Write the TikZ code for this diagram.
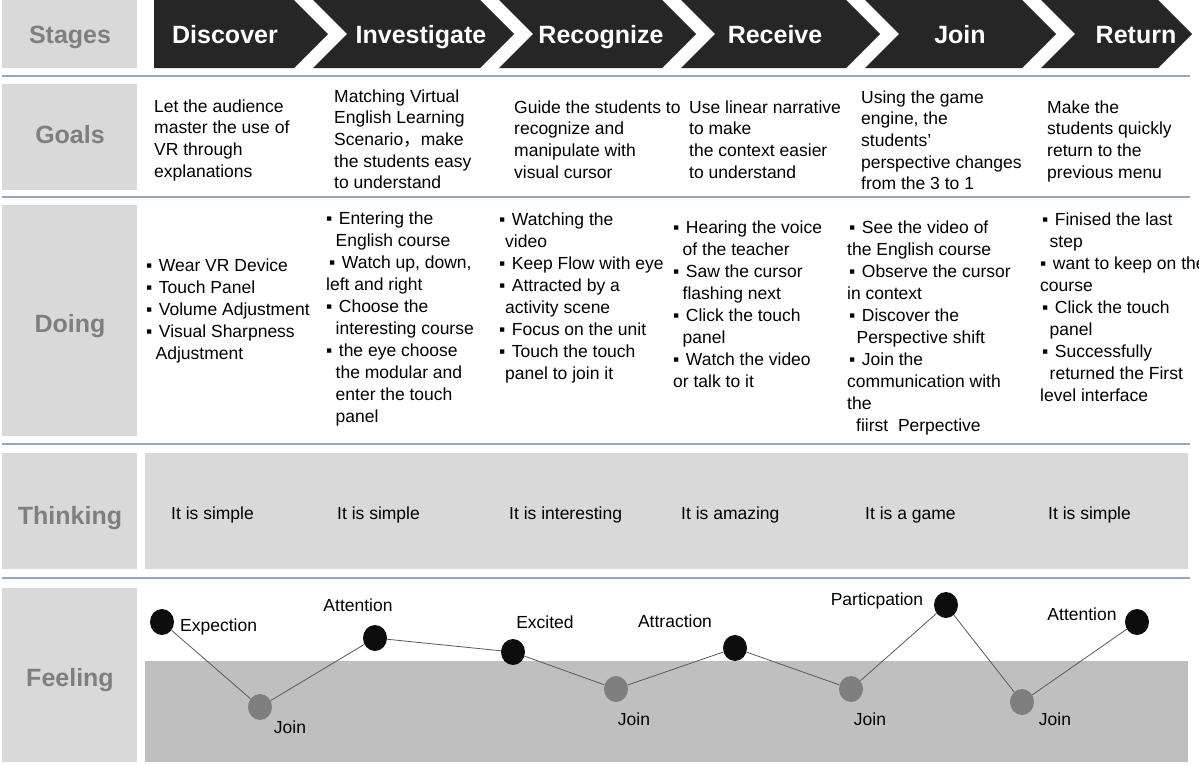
\documentclass[tikz,border=0pt]{standalone}
\usepackage{fontspec}
\usetikzlibrary{shapes.geometric}
\setmainfont{Liberation Sans}
\newfontfamily\cjkfont{Noto Sans CJK SC}
\definecolor{bannerbk}{HTML}{262626}
\definecolor{labelbox}{HTML}{D9D9D9}
\definecolor{labeltxt}{HTML}{7F7F7F}
\definecolor{lowband}{HTML}{BFBFBF}
\definecolor{rule}{HTML}{95A7BA}
\definecolor{dotgrey}{HTML}{7F7F7F}
\definecolor{dotblack}{HTML}{0D0D0D}
\definecolor{linkgrey}{HTML}{5A5A5A}
% bullet and hanging indent for the list cells
\newcommand{\bu}{▪\hspace{6.5pt}}
\newcommand{\ind}{\hspace*{9.5pt}}
\begin{document}
\begin{tikzpicture}[x=1pt,y=-1pt,
  head/.style={font=\fontsize{25}{30}\selectfont\bfseries, text=white, anchor=base, inner sep=0pt},
  rowlabel/.style={font=\fontsize{25}{30}\selectfont\bfseries, text=labeltxt, anchor=base, inner sep=0pt},
  goaltxt/.style={font=\fontsize{17.5}{21.7}\selectfont, align=left, anchor=north west, inner sep=0pt},
  dotxt/.style={font=\fontsize{17.5}{22}\selectfont, align=left, anchor=north west, inner sep=0pt},
  thinktxt/.style={font=\fontsize{17.5}{21}\selectfont, anchor=base west, inner sep=0pt},
  feeltxt/.style={font=\fontsize{17.5}{21}\selectfont, anchor=base, inner sep=0pt},
  bdot/.style={ellipse, fill=dotblack, minimum width=24pt, minimum height=26pt, inner sep=0pt},
  gdot/.style={ellipse, fill=dotgrey, minimum width=24pt, minimum height=26pt, inner sep=0pt},
  link/.style={draw=linkgrey, line width=0.8pt},
  sep/.style={draw=rule, line width=1.4pt},
]
\useasboundingbox (0,0) rectangle (1199,764);
\fill[white] (0,0) rectangle (1199,764);

% ---- label column boxes
\fill[labelbox] (2,0) rectangle (137,68);
\fill[labelbox] (2,84) rectangle (137,190);
\fill[labelbox] (2,205) rectangle (137,436);
\fill[labelbox] (2,453) rectangle (137,569);
\fill[labelbox] (2,588) rectangle (137,762);

% ---- content bands
\fill[labelbox] (145,453) rectangle (1188,569);
\fill[lowband] (145,661) rectangle (1188,762);

% ---- row separators
\draw[sep] (2,76) -- (1190,76);
\draw[sep] (2,197) -- (1190,197);
\draw[sep] (2,444) -- (1190,444);
\draw[sep] (2,578) -- (1190,578);

% ---- stage chevrons
\fill[bannerbk] (154,0) -- (294,0) -- (328,34) -- (294,68) -- (154,68) -- cycle;
\fill[bannerbk] (313,0) -- (480,0) -- (514,34) -- (480,68) -- (313,68) -- (347,34) -- cycle;
\fill[bannerbk] (499,0) -- (662,0) -- (696,34) -- (662,68) -- (499,68) -- (533,34) -- cycle;
\fill[bannerbk] (681,0) -- (846,0) -- (880,34) -- (846,68) -- (681,68) -- (715,34) -- cycle;
\fill[bannerbk] (865,0) -- (1022,0) -- (1056,34) -- (1022,68) -- (865,68) -- (899,34) -- cycle;
\fill[bannerbk] (1041,0) -- (1158,0) -- (1192,34) -- (1158,68) -- (1041,68) -- (1075,34) -- cycle;

\node[head] (stDiscover) at (225,43) {Discover};
\node[head] (stInvestigate) at (421,43) {Investigate};
\node[head] (stRecognize) at (601,43) {Recognize};
\node[head] (stReceive) at (775,43) {Receive};
\node[head] (stJoin) at (960,43) {Join};
\node[head] (stReturn) at (1136,43) {Return};

% ---- row labels
\node[rowlabel] (lbStages) at (70,43) {Stages};
\node[rowlabel] (lbGoals) at (70,143) {Goals};
\node[rowlabel] (lbDoing) at (70,332) {Doing};
\node[rowlabel] (lbThinking) at (70,524) {Thinking};
\node[rowlabel] (lbFeeling) at (70,686) {Feeling};

% ---- goals
\node[goaltxt] (g1) at (154,96.8) {\strut Let the audience\\master the use of\\VR through\\explanations};
\node[goaltxt] (g2) at (334,86.8) {\strut Matching Virtual\\English Learning\\Scenario{\cjkfont ，}make\\the students easy\\to understand};
\node[goaltxt] (g3) at (514,97.8) {\strut Guide the students to\\recognize and\\manipulate with\\visual cursor};
\node[goaltxt] (g4) at (689,97.8) {\strut Use linear narrative\\to make\\the context easier\\to understand};
\node[goaltxt] (g5) at (861,87.8) {\strut Using the game\\engine, the\\students'\\perspective changes\\from the 3 to 1};
\node[goaltxt] (g6) at (1047,97.8) {\strut Make the\\students quickly\\return to the\\previous menu};

% ---- doing
\node[dotxt] (d1) at (146,255.6) {\strut\bu Wear VR Device\\\bu Touch Panel\\\bu Volume Adjustment\\\bu Visual Sharpness\\\ind Adjustment};
\node[dotxt] (d2) at (326,208.6) {\strut\bu Entering the\\\ind English course\\\hspace*{3pt}\bu Watch up, down,\\left and right\\\bu Choose the\\\ind interesting course\\\bu the eye choose\\\ind the modular and\\\ind enter the touch\\\ind panel};
\node[dotxt] (d3) at (499,209.6) {\strut\bu Watching the\\\hspace*{6pt}video\\\bu Keep Flow with eye\\\bu Attracted by a\\\hspace*{6pt}activity scene\\\bu Focus on the unit\\\bu Touch the touch\\\hspace*{6pt}panel to join it};
\node[dotxt] (d4) at (673,217.6) {\strut\bu Hearing the voice\\\ind of the teacher\\\bu Saw the cursor\\\ind flashing next\\\bu Click the touch\\\ind panel\\\bu Watch the video\\or talk to it};
\node[dotxt] (d5) at (847,217.6) {\strut\hspace*{2pt}\bu See the video of\\the English course\\\hspace*{2pt}\bu Observe the cursor\\in context\\\hspace*{2pt}\bu Discover the\\\ind Perspective shift\\\hspace*{2pt}\bu Join the\\communication with\\the\\\hspace*{9pt}fiirst\ \ Perpective};
\node[dotxt] (d6) at (1040,209.6) {\strut\hspace*{2pt}\bu Finised the last\\\ind step\\\bu want to keep on the\\course\\\hspace*{2pt}\bu Click the touch\\\ind panel\\\hspace*{2pt}\bu Successfully\\\ind returned the First\\level interface};

% ---- thinking
\node[thinktxt] (t1) at (171,519) {It is simple};
\node[thinktxt] (t2) at (337,519) {It is simple};
\node[thinktxt] (t3) at (509,519) {It is interesting};
\node[thinktxt] (t4) at (681,519) {It is amazing};
\node[thinktxt] (t5) at (865,519) {It is a game};
\node[thinktxt] (t6) at (1048,519) {It is simple};

% ---- feeling curve
\node[bdot] (f1) at (162,622) {};
\node[gdot] (f2) at (260,707) {};
\node[bdot] (f3) at (375,638) {};
\node[bdot] (f4) at (513,652) {};
\node[gdot] (f5) at (616,689) {};
\node[bdot] (f6) at (735,648) {};
\node[gdot] (f7) at (851,689) {};
\node[bdot] (f8) at (946,605) {};
\node[gdot] (f9) at (1022,702) {};
\node[bdot] (f10) at (1137,622) {};

\draw[link] (f1) -- (f2);
\draw[link] (f2) -- (f3);
\draw[link] (f3) -- (f4);
\draw[link] (f4) -- (f5);
\draw[link] (f5) -- (f6);
\draw[link] (f6) -- (f7);
\draw[link] (f7) -- (f8);
\draw[link] (f8) -- (f9);
\draw[link] (f9) -- (f10);

\node[feeltxt, anchor=base west] (e1) at (180,631) {Expection};
\node[feeltxt] (e2) at (290,733) {Join};
\node[feeltxt] (e3) at (358,611) {Attention};
\node[feeltxt] (e4) at (545,628) {Excited};
\node[feeltxt] (e5) at (634,725) {Join};
\node[feeltxt] (e6) at (675,627) {Attraction};
\node[feeltxt] (e7) at (870,725) {Join};
\node[feeltxt] (e8) at (877,605) {Particpation};
\node[feeltxt] (e9) at (1055,725) {Join};
\node[feeltxt] (e10) at (1082,620) {Attention};
\end{tikzpicture}
\end{document}
